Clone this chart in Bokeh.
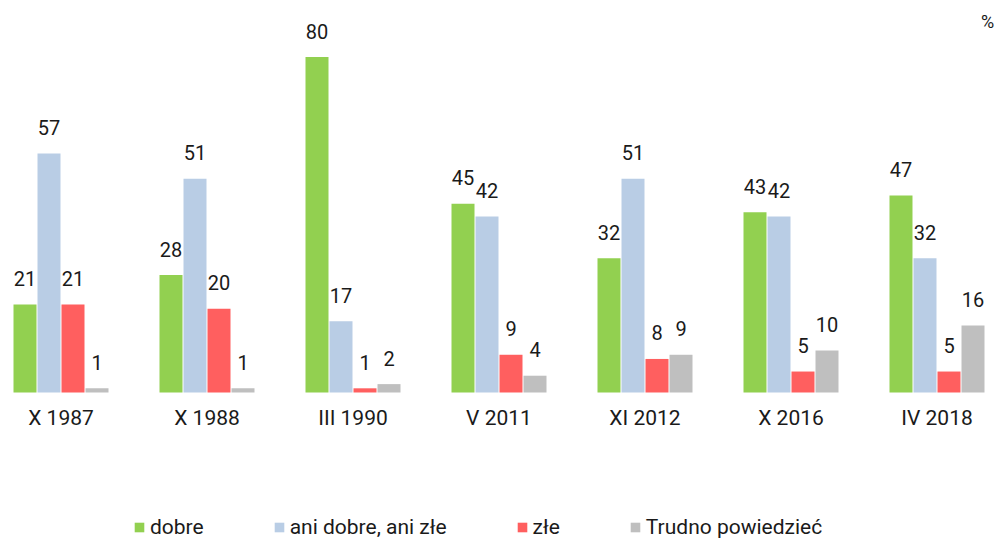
from bokeh.plotting import figure
from bokeh.models import (ColumnDataSource, Range1d, FixedTicker, Legend, LegendItem, Label, LinearAxis)
from bokeh.transform import dodge
from bokeh.core.properties import value
from bokeh.embed import file_html
from bokeh.resources import INLINE

categories = ["X 1987", "X 1988", "III 1990", "V 2011", "XI 2012", "X 2016", "IV 2018"]
series_names = ["dobre", "ani dobre, ani złe", "złe", "Trudno powiedzieć"]
dobre = [21, 28, 80, 45, 32, 43, 47]
ani = [57, 51, 17, 42, 51, 42, 32]
zle = [21, 20, 1, 9, 8, 5, 5]
trudno = [1, 1, 2, 4, 9, 10, 16]
colors = ["#92D050", "#B9CDE5", "#FF5F5F", "#BFBFBF"]

FONT = "Roboto"
TXT = "#1a1a1a"

p = figure(width=997, height=539, output_backend="svg", toolbar_location=None,
           x_range=Range1d(-0.4144, 6.4144), y_range=Range1d(-35.06, 93.49),
           x_axis_location=None, y_axis_location=None,
           min_border_left=0, min_border_right=0, min_border_top=0, min_border_bottom=0)
p.outline_line_color = None
p.xgrid.grid_line_color = None
p.ygrid.grid_line_color = None
p.background_fill_color = "white"
p.border_fill_color = "white"

xs = list(range(len(categories)))
pitch = 24 / 146
bw = 23 / 146
renderers = []
for k, (name, vals, col) in enumerate(zip(series_names, [dobre, ani, zle, trudno], colors)):
    src = ColumnDataSource(dict(x=xs, y=vals, lab=[str(v) for v in vals]))
    off = (k - 1.5) * pitch
    r = p.vbar(x=dodge("x", off, range=p.x_range), top="y", width=bw, source=src,
               fill_color=col, line_color=None)
    renderers.append(r)
    p.text(x=dodge("x", off, range=p.x_range), y="y", text="lab", source=src,
           text_align="center", text_baseline="alphabetic", y_offset=-26,
           text_font=value(FONT), text_font_size="20px", text_color=TXT)

ax = LinearAxis(fixed_location=0)
ax.ticker = FixedTicker(ticks=xs)
ax.major_label_overrides = {i: c for i, c in enumerate(categories)}
ax.axis_line_color = None
ax.major_tick_line_color = None
ax.minor_tick_line_color = None
ax.major_tick_out = 0
ax.major_tick_in = 0
ax.major_label_standoff = 14
ax.major_label_text_font = FONT
ax.major_label_text_font_size = "21px"
ax.major_label_text_color = TXT
p.add_layout(ax, "below")

legend = Legend(items=[LegendItem(label=n, renderers=[r]) for n, r in zip(series_names, renderers)],
                orientation="horizontal", location=(133, 0),
                glyph_width=12, glyph_height=12, label_standoff=5, spacing=69,
                padding=0, margin=0, border_line_color=None, background_fill_alpha=0,
                label_text_font=FONT, label_text_font_size="21px", label_text_color=TXT,
                label_height=22)
p.add_layout(legend, "center")

pct = Label(x=987, y=518, x_units="screen", y_units="screen", text="%",
            text_align="center", text_baseline="alphabetic",
            text_font=FONT, text_font_size="18px", text_color=TXT)
p.add_layout(pct)

open("out.html", "w").write(file_html(p, INLINE))
